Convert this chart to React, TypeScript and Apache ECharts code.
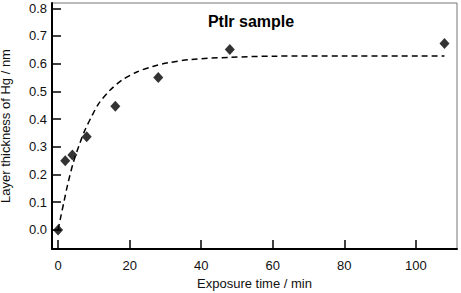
import React, { useEffect, useRef } from "react";
import * as echarts from "echarts";

const sampleTime = [0, 2, 4, 8, 16, 28, 48, 108];
const sampleThickness = [0, 0.25, 0.27, 0.336, 0.446, 0.55, 0.651, 0.673];

const fitTime = [0, 0.6, 1.7, 2.7, 4.3, 6.1, 7.5, 9.4, 11.3, 14.5, 17.8, 22, 26.5, 30.7, 37, 48, 60, 80, 108];
const fitThickness = [0, 0.038, 0.105, 0.165, 0.245, 0.313, 0.36, 0.41, 0.455, 0.504, 0.54, 0.57, 0.59, 0.603, 0.615, 0.623, 0.627, 0.628, 0.628];

const xTicks = [0, 20, 40, 60, 80, 100];
const yTicks = [0, 0.1, 0.2, 0.3, 0.4, 0.5, 0.6, 0.7, 0.8];

const FONT = "'Liberation Sans', Arial, sans-serif";

export default function App() {
  const ref = useRef<HTMLDivElement>(null);
  useEffect(() => {
    if (!ref.current) return;
    const chart = echarts.init(ref.current, undefined, { renderer: "svg" });
    chart.setOption({
      animation: false,
      backgroundColor: "#ffffff",
      title: {
        text: "PtIr sample",
        left: 246,
        top: 8,
        textAlign: "center",
        textStyle: { fontFamily: FONT, fontSize: 16, fontWeight: "bold", color: "#000" },
      },
      grid: {
        left: 52, right: 4, top: 3, bottom: 44,
        containLabel: false, outerBoundsMode: "none",
        show: true, borderColor: "#777", borderWidth: 1,
      },
      xAxis: {
        type: "value",
        min: -1.7,
        max: 111.5,
        name: "Exposure time / min",
        nameLocation: "middle",
        nameGap: 28,
        nameTextStyle: { fontFamily: FONT, fontSize: 13, color: "#111" },
        axisLine: { show: true, onZero: false, lineStyle: { color: "#000", width: 2 } },
        axisTick: { show: true, inside: true, length: 9, lineStyle: { color: "#000", width: 1.5 }, customValues: xTicks },
        axisLabel: { fontFamily: FONT, fontSize: 13, color: "#111", margin: 10, customValues: xTicks, formatter: (v: number) => String(v) },
        splitLine: { show: false },
      },
      yAxis: {
        type: "value",
        min: -0.069,
        max: 0.819,
        name: "Layer thickness of Hg / nm",
        nameLocation: "middle",
        nameGap: 40,
        nameTextStyle: { fontFamily: FONT, fontSize: 13, color: "#111" },
        axisLine: { show: true, onZero: false, lineStyle: { color: "#000", width: 2 } },
        axisTick: { show: true, inside: true, length: 9, lineStyle: { color: "#000", width: 1.5 }, customValues: yTicks },
        axisLabel: { fontFamily: FONT, fontSize: 13, color: "#111", margin: 5, customValues: yTicks, formatter: (v: number) => v.toFixed(1) },
        splitLine: { show: false },
      },
      series: [
        {
          type: "line",
          data: fitTime.map((t, i) => [t, fitThickness[i]]),
          smooth: 0.3,
          showSymbol: false,
          lineStyle: { color: "#000", width: 1.5, type: [6, 4] },
          z: 2,
        },
        {
          type: "scatter",
          data: sampleTime.map((t, i) => [t, sampleThickness[i]]),
          symbol: "diamond",
          symbolSize: [10, 11],
          itemStyle: { color: "#000" },
          z: 3,
        },
      ],
    });
    return () => chart.dispose();
  }, []);
  return <div ref={ref} style={{ position: "fixed", left: 0, top: 0, width: 461, height: 293 }} />;
}
